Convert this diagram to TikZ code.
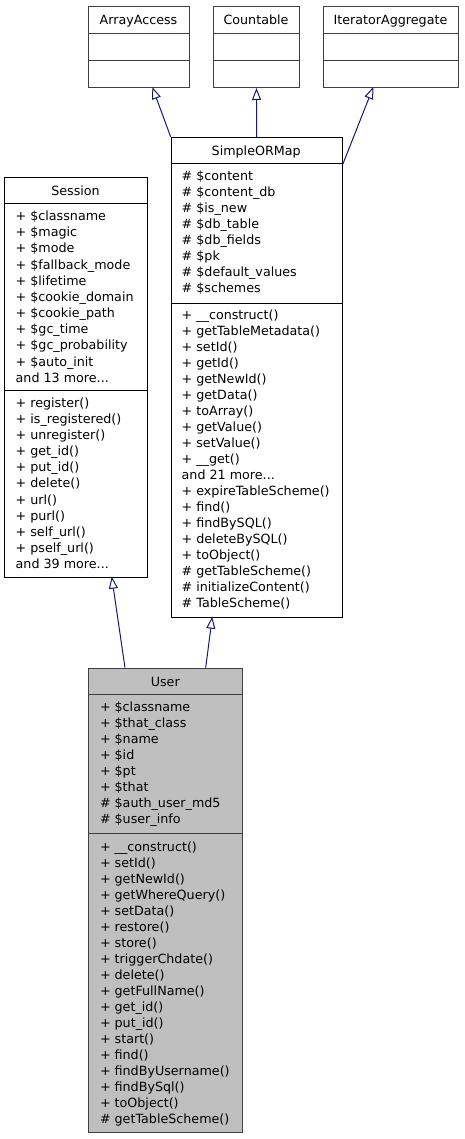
\documentclass[tikz,border=0pt]{standalone}
\usepackage{fontspec}
\setmainfont{DejaVu Sans}
\usetikzlibrary{arrows.meta}
\definecolor{edgeblue}{HTML}{191970}
\definecolor{bordergrey}{HTML}{404040}
\definecolor{userfill}{HTML}{BFBFBF}
\newcommand\threedots{...}
\tikzset{
  comp/.style={draw=black, line width=1pt, inner sep=0pt, anchor=north west, fill=white},
  gcomp/.style={comp, draw=bordergrey},
  ucomp/.style={comp, draw=bordergrey, fill=userfill},
  title/.style={anchor=base, inner sep=0pt},
  member/.style={anchor=base west, inner sep=0pt},
  inherit/.style={draw=edgeblue, line width=1pt, -{Triangle[open, length=12pt, width=9pt]}},
}
\begin{document}
\begin{tikzpicture}[x=1pt, y=-1pt, font=\fontsize{12.7}{15}\selectfont]
\useasboundingbox (0,0) rectangle (464,1139);

% ---------- interfaces ----------
\node[gcomp, minimum width=101pt, minimum height=27pt] (aa-h) at (88,6) {};
\node[gcomp, minimum width=101pt, minimum height=27pt] (aa-a) at (88,33) {};
\node[gcomp, minimum width=101pt, minimum height=27pt] (aa-m) at (88,60) {};
\node[title] (aa-t) at (138.5,24.4) {ArrayAccess};

\node[gcomp, minimum width=86pt, minimum height=27pt] (co-h) at (213,6) {};
\node[gcomp, minimum width=86pt, minimum height=27pt] (co-a) at (213,33) {};
\node[gcomp, minimum width=86pt, minimum height=27pt] (co-m) at (213,60) {};
\node[title] (co-t) at (256,24.4) {Countable};

\node[gcomp, minimum width=135pt, minimum height=27pt] (ia-h) at (323,6) {};
\node[gcomp, minimum width=135pt, minimum height=27pt] (ia-a) at (323,33) {};
\node[gcomp, minimum width=135pt, minimum height=27pt] (ia-m) at (323,60) {};
\node[title] (ia-t) at (390.5,24.4) {IteratorAggregate};

% ---------- Session ----------
\node[comp, minimum width=142.4pt, minimum height=26pt] (se-h) at (4.3,177.3) {};
\node[comp, minimum width=142.4pt, minimum height=186.7pt] (se-a) at (4.3,203.3) {};
\node[comp, minimum width=142.4pt, minimum height=186.7pt] (se-m) at (4.3,390) {};
\node[title] (se-t) at (75.5,195.7) {Session};
\foreach \t [count=\i from 0] in {+ \$classname, + \$magic, + \$mode, + \$fallback\_mode, + \$lifetime, + \$cookie\_domain, + \$cookie\_path, + \$gc\_time, + \$gc\_probability, + \$auto\_init, and 13 more\threedots}
  \node[member] (se-a\i) at (15.5,{220.5+16.17*\i}) {\t};
\foreach \t [count=\i from 0] in {+ register(), + is\_registered(), + unregister(), + get\_id(), + put\_id(), + delete(), + url(), + purl(), + self\_url(), + pself\_url(), and 39 more\threedots}
  \node[member] (se-m\i) at (15.5,{407+16.17*\i}) {\t};

% ---------- SimpleORMap ----------
\node[comp, minimum width=171pt, minimum height=26.5pt] (so-h) at (170.7,137) {};
\node[comp, minimum width=171pt, minimum height=139.2pt] (so-a) at (170.7,163.5) {};
\node[comp, minimum width=171pt, minimum height=314pt] (so-m) at (170.7,302.7) {};
\node[title] (so-t) at (256.2,155.2) {SimpleORMap};
\foreach \t [count=\i from 0] in {\# \$content, \# \$content\_db, \# \$is\_new, \# \$db\_table, \# \$db\_fields, \# \$pk, \# \$default\_values, \# \$schemes}
  \node[member] (so-a\i) at (181.5,{180.3+16.04*\i}) {\t};
\foreach \t [count=\i from 0] in {+ \_\_construct(), + getTableMetadata(), + setId(), + getId(), + getNewId(), + getData(), + toArray(), + getValue(), + setValue(), + \_\_get(), and 21 more\threedots, + expireTableScheme(), + find(), + findBySQL(), + deleteBySQL(), + toObject(), \# getTableScheme(), \# initializeContent(), \# TableScheme()}
  \node[member] (so-m\i) at (181.5,{319.5+16.02*\i}) {\t};

% ---------- User ----------
\node[ucomp, minimum width=154pt, minimum height=26.6pt] (us-h) at (88.3,667.7) {};
\node[ucomp, minimum width=154pt, minimum height=139pt] (us-a) at (88.3,694.3) {};
\node[ucomp, minimum width=154pt, minimum height=298.4pt] (us-m) at (88.3,833.3) {};
\node[title] (us-t) at (165.3,686) {User};
\foreach \t [count=\i from 0] in {+ \$classname, + \$that\_class, + \$name, + \$id, + \$pt, + \$that, \# \$auth\_user\_md5, \# \$user\_info}
  \node[member] (us-a\i) at (99.8,{711.7+16.04*\i}) {\t};
\foreach \t [count=\i from 0] in {+ \_\_construct(), + setId(), + getNewId(), + getWhereQuery(), + setData(), + restore(), + store(), + triggerChdate(), + delete(), + getFullName(), + get\_id(), + put\_id(), + start(), + find(), + findByUsername(), + findBySql(), + toObject(), \# getTableScheme()}
  \node[member] (us-m\i) at (99.8,{851.2+16.0*\i}) {\t};

% ---------- connectors ----------
\coordinate (aa-in) at (152.3,87);
\coordinate (ia-in) at (373.3,87);
\coordinate (se-in) at (111.7,576.7);
\coordinate (so-in) at (212.3,616.7);
\coordinate (us-out1) at (125,667.7);
\coordinate (us-out2) at (205.7,667.7);

\draw[inherit] (so-h.north west) -- (aa-in);
\draw[inherit] (so-h.north) -- (co-m.south);
\draw[inherit] (so-h.south east) -- (ia-in);
\draw[inherit] (us-out1) -- (se-in);
\draw[inherit] (us-out2) -- (so-in);
\end{tikzpicture}
\end{document}
